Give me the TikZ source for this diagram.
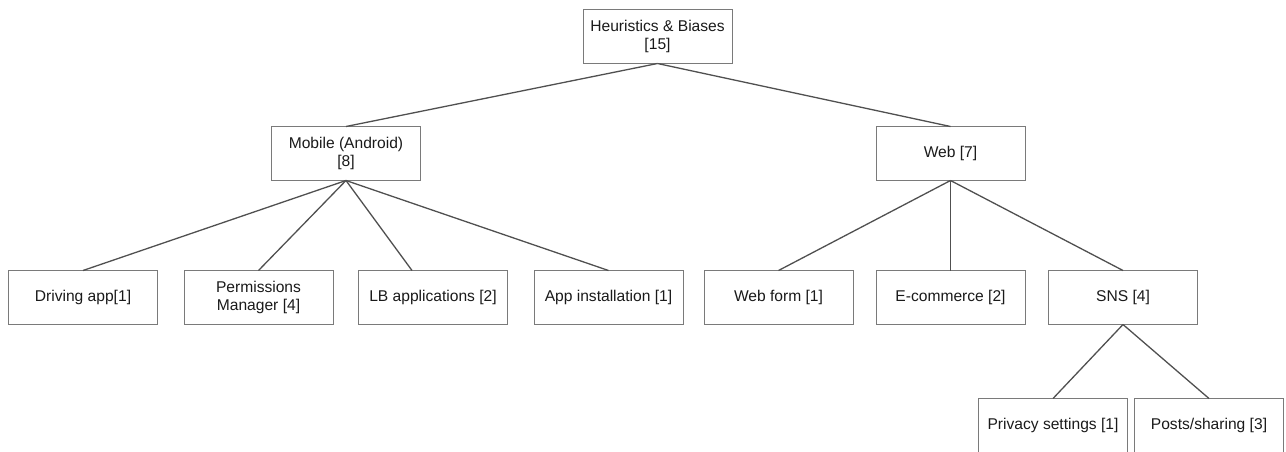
\documentclass[tikz,border=0pt]{standalone}
\usepackage{fontspec}
\setmainfont{Liberation Sans}
\usetikzlibrary{positioning}
\definecolor{boxgray}{HTML}{7A7A7A}
\definecolor{linegray}{HTML}{505050}
\definecolor{textblack}{HTML}{1A1A1A}

\begin{document}
\begin{tikzpicture}[x=1pt,y=1pt,
  box/.style={draw=boxgray, line width=1pt, minimum width=149pt,
    minimum height=54pt, outer sep=0pt, align=center, inner sep=2pt,
    text=textblack, font=\fontsize{15.6}{18}\selectfont},
  link/.style={draw=linegray, line width=1.3pt}]
  \useasboundingbox (0,0) rectangle (1286,-451);

  \node (hb) [box] at (657.5,-36.5) {Heuristics \& Biases\\{[15]}};
  \node (mobile) [box, below=63pt of hb, xshift=-311.5pt] {Mobile (Android)\\{[8]}};
  \node (web) [box, below=63pt of hb, xshift=293pt] {Web [7]};

  % second level
  \node (driving) [box, below=90pt of mobile, xshift=-263pt] {Driving app[1]};
  \node (permissions) [box, right=26.5pt of driving] {Permissions\\Manager [4]};
  \node (lbapps) [box, right=25.5pt of permissions] {LB applications [2]};
  \node (install) [box, right=26.5pt of lbapps] {App installation [1]};
  \node (webform) [box, right=21pt of install] {Web form [1]};
  \node (ecommerce) [box, right=23pt of webform] {E-commerce [2]};
  \node (sns) [box, right=23.5pt of ecommerce] {SNS [4]};

  % third level
  \node (privacy) [box, below=74pt of sns, xshift=-70pt] {Privacy settings [1]};
  \node (posts) [box, right=7pt of privacy] {Posts/sharing [3]};

  \path[link]
    (hb.south) edge (mobile.north)
    (hb.south) edge (web.north)
    (mobile.south) edge (driving.north)
    (mobile.south) edge (permissions.north)
    (mobile.south) edge ([xshift=-21pt]lbapps.north)
    (mobile.south) edge (install.north)
    (web.south) edge (webform.north)
    (web.south) edge (ecommerce.north)
    (web.south) edge (sns.north)
    (sns.south) edge (privacy.north)
    (sns.south) edge (posts.north);
\end{tikzpicture}
\end{document}
